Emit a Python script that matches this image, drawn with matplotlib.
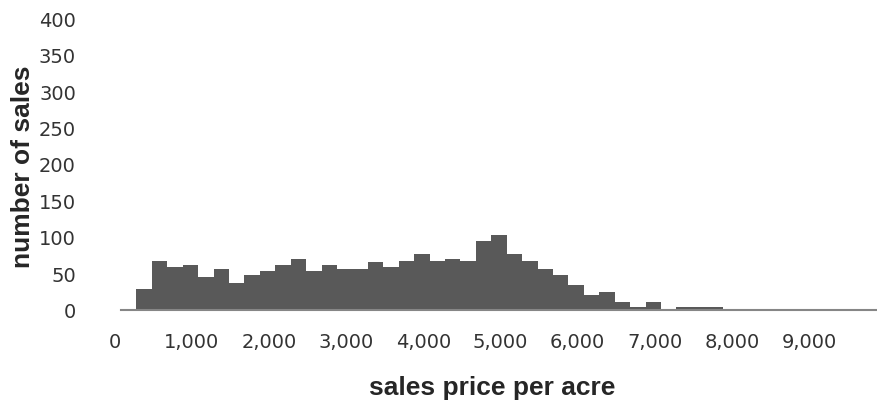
import numpy as np
import matplotlib
matplotlib.use("Agg")
import matplotlib.pyplot as plt

# histogram of sales price per acre, bins of 200
bin_width = 200
bin_left = np.arange(0, 9800, bin_width)
counts = [0, 30, 68, 60, 62, 46, 57, 38, 49, 54,
          62, 71, 54, 62, 57, 57, 66, 60, 68, 77,
          68, 71, 68, 96, 104, 77, 68, 57, 49, 35,
          21, 25, 11, 5, 11, 0, 5, 5, 5, 0,
          0, 0, 0, 0, 0, 0, 0, 0, 0]
tick_values = [0, 1000, 2000, 3000, 4000, 5000, 6000, 7000, 8000, 9000]
tick_labels = ["0", "1,000", "2,000", "3,000", "4,000", "5,000",
               "6,000", "7,000", "8,000", "9,000"]
y_ticks = [0, 50, 100, 150, 200, 250, 300, 350, 400]

fig = plt.figure(figsize=(8.77, 4.0), dpi=100)
ax = fig.add_axes([0.1309, 0.224, 0.8691, 0.727])

ax.bar(bin_left, counts, width=bin_width, align="edge",
       color="#595959", edgecolor="none", linewidth=0)

ax.set_xlim(-80, 9800)
ax.set_ylim(0, 400)

# category-style labels sit a little left of the bin edges
ax.set_xticks(np.array(tick_values) - 80)
ax.set_xticklabels(tick_labels)
ax.set_yticks(y_ticks)

for s in ["top", "right", "left"]:
    ax.spines[s].set_visible(False)
ax.spines["bottom"].set_color("#868686")
ax.spines["bottom"].set_linewidth(1.5)
ax.spines["bottom"].set_bounds(0, 9800)

ax.tick_params(axis="both", length=0, labelsize=14, labelcolor="#333333")
ax.tick_params(axis="x", pad=16)
ax.tick_params(axis="y", pad=28)
for lab in ax.get_xticklabels() + ax.get_yticklabels():
    lab.set_family("DejaVu Sans")

fig.text(0.5616, 0.0125, "sales price per acre", fontsize=19,
         fontweight="bold", family="Liberation Sans", color="#262626",
         ha="center", va="baseline")
fig.text(0.0259, 0.584, "number of sales", fontsize=19, rotation=90,
         fontweight="bold", family="Liberation Sans", color="#262626",
         ha="center", va="center")

fig.savefig("out.png", dpi=100)
